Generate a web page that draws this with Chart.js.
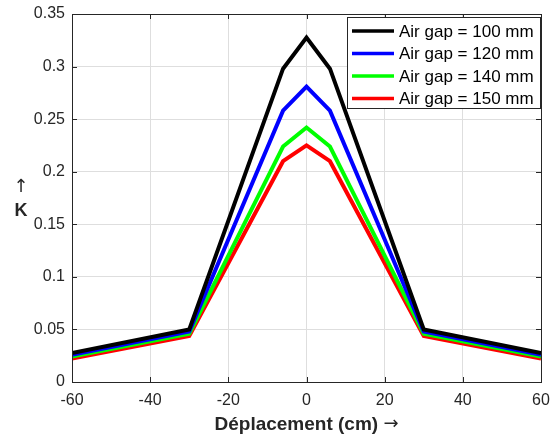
<!DOCTYPE html>
<html>
<head>
<meta charset="utf-8">
<script src="https://cdn.jsdelivr.net/npm/chart.js@4"></script>
<style>
  html, body { margin: 0; padding: 0; background: #ffffff; }
  #wrap { width: 550px; height: 436px; }
</style>
</head>
<body>
<div id="wrap"><canvas id="c" width="550" height="436"></canvas></div>
<script>
// ---- data ----
const displacement = [-60, -30, -6, 0, 6, 30, 60];
const airGap100 = [0.0276, 0.0499, 0.298, 0.3275, 0.298, 0.0499, 0.0276];
const airGap120 = [0.0260, 0.0480, 0.258, 0.2810, 0.258, 0.0480, 0.0260];
const airGap140 = [0.0242, 0.0460, 0.224, 0.2420, 0.224, 0.0460, 0.0242];
const airGap150 = [0.0222, 0.0437, 0.210, 0.2250, 0.210, 0.0437, 0.0222];
const seriesLabels = ['Air gap = 100 mm', 'Air gap = 120 mm', 'Air gap = 140 mm', 'Air gap = 150 mm'];
const xTicks = [-60, -40, -20, 0, 20, 40, 60];
const yTicks = [0, 0.05, 0.1, 0.15, 0.2, 0.25, 0.3, 0.35];
const xTitle = 'Déplacement (cm)';
const xArrow = '→';
const yArrow = '↑';
const yTitle = 'K';

const FONT = '"Liberation Sans", Arial, Helvetica, sans-serif';
const TXT = '#262626';
const colors = ['#000000', '#0000ff', '#00ff00', '#ff0000'];
const allSeries = [airGap100, airGap120, airGap140, airGap150];

const datasets = allSeries.map((s, i) => ({
  label: seriesLabels[i],
  data: displacement.map((x, j) => ({ x: x, y: s[j] })),
  borderColor: colors[i],
  backgroundColor: colors[i],
  borderWidth: 4,
  pointRadius: 0,
  tension: 0,
  fill: false
}));

const framePlugin = {
  id: 'frame',
  afterDatasetsDraw(chart) {
    const ctx = chart.ctx;
    const a = chart.chartArea;
    const xs = chart.scales.x, ys = chart.scales.y;
    ctx.save();
    ctx.strokeStyle = TXT;
    ctx.lineWidth = 1;
    ctx.beginPath();
    xTicks.forEach(v => {
      const p = Math.round(xs.getPixelForValue(v)) + 0.5;
      ctx.moveTo(p, a.bottom); ctx.lineTo(p, a.bottom - 5);
      ctx.moveTo(p, a.top); ctx.lineTo(p, a.top + 5);
    });
    yTicks.forEach(v => {
      const p = Math.round(ys.getPixelForValue(v)) + 0.5;
      ctx.moveTo(a.left, p); ctx.lineTo(a.left + 5, p);
      ctx.moveTo(a.right, p); ctx.lineTo(a.right - 5, p);
    });
    ctx.stroke();
    ctx.strokeRect(Math.round(a.left) + 0.5, Math.round(a.top) + 0.5,
                   Math.round(a.right - a.left), Math.round(a.bottom - a.top));
    ctx.restore();
  },
  afterDraw(chart) {
    const ctx = chart.ctx;
    const a = chart.chartArea;
    ctx.save();
    ctx.fillStyle = TXT;
    // y title: arrow above K
    ctx.textAlign = 'center';
    ctx.textBaseline = 'middle';
    ctx.font = '18px "DejaVu Sans", sans-serif';
    ctx.fillText(yArrow, 21, 187);
    ctx.font = 'bold 18px ' + FONT;
    ctx.fillText(yTitle, 21, 211);

    // x title with arrow
    ctx.font = 'bold 19px ' + FONT;
    const w1 = ctx.measureText(xTitle + ' ').width;
    ctx.font = '18px "DejaVu Sans", sans-serif';
    const w2 = ctx.measureText(xArrow).width;
    const cx = (a.left + a.right) / 2;
    const x0 = cx - (w1 + w2) / 2;
    ctx.textAlign = 'left';
    ctx.textBaseline = 'alphabetic';
    ctx.font = 'bold 19px ' + FONT;
    ctx.fillText(xTitle, x0, 430);
    ctx.font = '18px "DejaVu Sans", sans-serif';
    ctx.textBaseline = 'middle';
    ctx.fillText(xArrow, x0 + w1, 424);

    // legend box
    const bx = 347.5, by = 17.5, bw = 193, bh = 91;
    ctx.fillStyle = '#ffffff';
    ctx.fillRect(bx, by, bw, bh);
    ctx.strokeStyle = TXT;
    ctx.lineWidth = 1;
    ctx.strokeRect(bx, by, bw, bh);
    ctx.font = '17px ' + FONT;
    ctx.textAlign = 'left';
    ctx.textBaseline = 'middle';
    chart.data.datasets.forEach((ds, i) => {
      const y = 31 + i * 22.5;
      ctx.strokeStyle = ds.borderColor;
      ctx.lineWidth = 3.5;
      ctx.beginPath();
      ctx.moveTo(352, y); ctx.lineTo(394, y);
      ctx.stroke();
      ctx.fillStyle = '#000000';
      ctx.fillText(ds.label, 399, y + 1);
    });
    ctx.restore();
  }
};

new Chart(document.getElementById('c'), {
  type: 'line',
  data: { datasets: datasets },
  options: {
    responsive: false,
    animation: false,
    layout: { padding: { left: 0, right: 9, top: 14, bottom: 0 } },
    plugins: { legend: { display: false }, tooltip: { enabled: false } },
    scales: {
      x: {
        type: 'linear',
        min: -60, max: 60,
        afterFit(s) { s.height = 54; s.paddingLeft = 0; s.paddingRight = 0; },
        afterBuildTicks(s) { s.ticks = xTicks.map(v => ({ value: v })); },
        grid: { color: '#dedede', lineWidth: 1, drawTicks: false },
        border: { display: false },
        ticks: {
          color: TXT, padding: 9,
          font: { family: FONT, size: 16 },
          callback: v => String(v)
        },
        title: { display: false }
      },
      y: {
        type: 'linear',
        min: 0, max: 0.35,
        afterFit(s) { s.width = 72; s.paddingTop = 0; s.paddingBottom = 0; },
        afterBuildTicks(s) { s.ticks = yTicks.map(v => ({ value: v })); },
        grid: { color: '#dedede', lineWidth: 1, drawTicks: false },
        border: { display: false },
        ticks: {
          color: TXT, padding: 7,
          font: { family: FONT, size: 16 },
          callback: v => String(+v.toFixed(2))
        }
      }
    }
  },
  plugins: [framePlugin]
});
</script>
</body>
</html>
